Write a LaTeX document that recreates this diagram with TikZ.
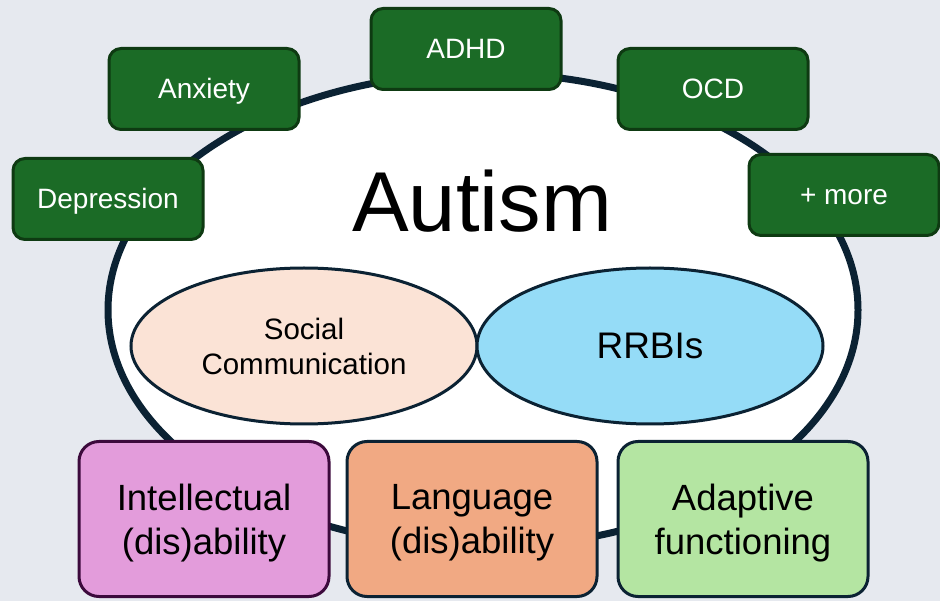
\documentclass[tikz,border=0pt]{standalone}
\usepackage{fontspec}
\setmainfont{Liberation Sans}
\usetikzlibrary{shapes.geometric}
\definecolor{bgcol}{HTML}{E6E9EF}
\definecolor{rimcol}{HTML}{0B2233}
\definecolor{boxgreen}{HTML}{1B6B26}
\definecolor{boxgreenline}{HTML}{0E3A12}
\definecolor{socialfill}{HTML}{FBE3D6}
\definecolor{rrbifill}{HTML}{95DCF7}
\definecolor{intfill}{HTML}{E39CDB}
\definecolor{intline}{HTML}{3C0A3C}
\definecolor{langfill}{HTML}{F1A983}
\definecolor{adaptfill}{HTML}{B4E5A2}
\begin{document}
\begin{tikzpicture}[x=1pt, y=-1pt,
        comorbid/.style={draw=boxgreenline, fill=boxgreen, line width=3pt, rounded corners=12pt, text=white, font=\fontsize{28}{32}\selectfont, inner sep=0pt, text height=20pt, text depth=0pt, minimum width=190pt, minimum height=81pt},
        core/.style={ellipse, draw=rimcol, line width=3pt, inner sep=0pt, minimum width=346pt, minimum height=156pt, align=center},
        profile/.style={draw=rimcol, line width=3pt, rounded corners=20pt, inner sep=0pt, text depth=0pt, minimum width=250pt, minimum height=155pt, align=center, font=\fontsize{36.5}{44}\selectfont}
    ]
    % Sfondo
    \fill[bgcol] (0,0) rectangle (940,601);
    \useasboundingbox (0,0) rectangle (940,601);

    % Ellisse principale
    \node[ellipse, draw=rimcol, fill=white, line width=7pt, inner sep=0pt, minimum width=750pt, minimum height=474pt] (autism) at (483,310) {};
    \node[anchor=base, font=\fontsize{85}{90}\selectfont] (title) at (482,232) {Autism};

    % Nucleo
    \node[core, fill=socialfill, font=\fontsize{29.5}{35}\selectfont] (social) at (304,346) {Social\\Communication};
    \node[core, fill=rrbifill, font=\fontsize{37}{40}\selectfont] (rrbi) at (650,346) {RRBIs};

    % Comorbidita
    \node[comorbid] (depression) at (108,199) {Depression};
    \node[comorbid] (anxiety) at (204,89) {Anxiety};
    \node[comorbid] (adhd) at (466,49) {ADHD};
    \node[comorbid] (ocd) at (713,89) {OCD};
    \node[comorbid] (more) at (844,195) {+ more};

    % Profilo
    \node[profile, draw=intline, fill=intfill] (intellect) at (204,519) {Intellectual\\(dis)ability};
    \node[profile, fill=langfill] (language) at (472,519) {Language\\(dis)ability};
    \node[profile, fill=adaptfill] (adaptive) at (743,519) {Adaptive\\functioning};
\end{tikzpicture}
\end{document}
